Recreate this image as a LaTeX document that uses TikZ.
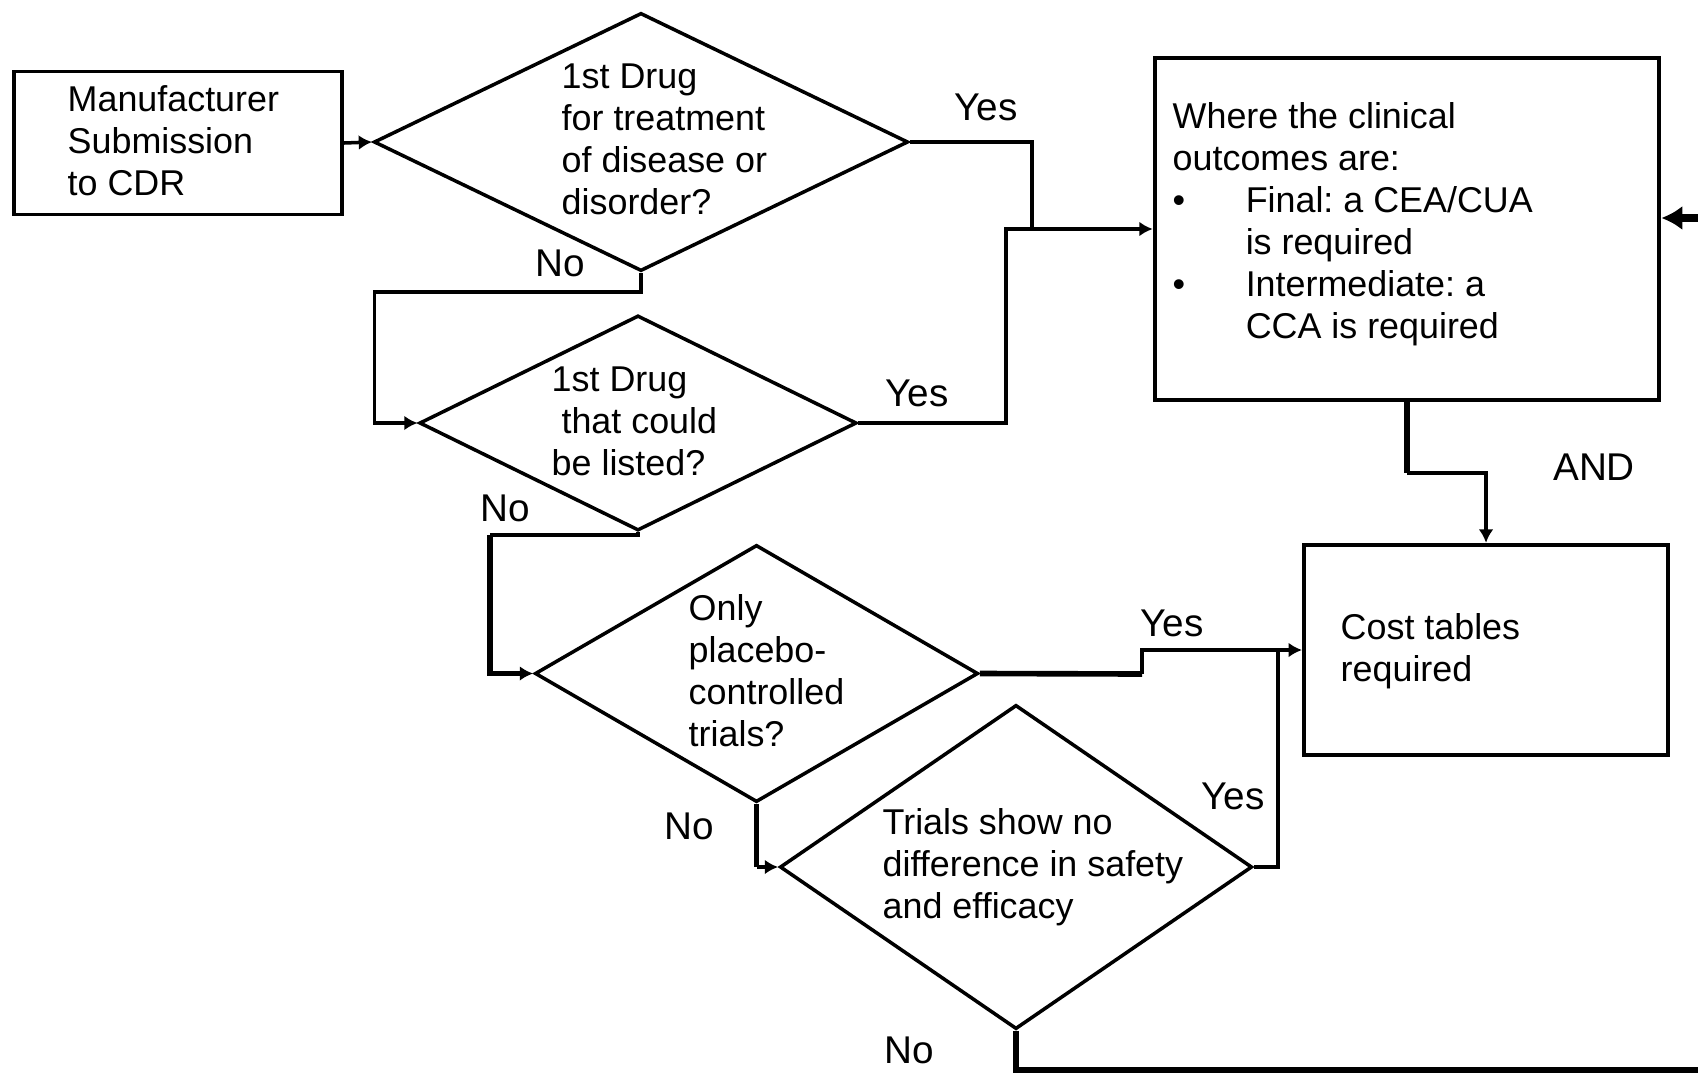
\documentclass[tikz,border=0pt]{standalone}
\usepackage{fontspec}
\setmainfont{Liberation Sans}
\usetikzlibrary{shapes.geometric,arrows.meta}
\frenchspacing
\begin{document}
\begin{tikzpicture}[x=0.01cm,y=-0.01cm,
  box/.style={draw,line width=1.1pt,rectangle,inner sep=0},
  dia/.style={draw,line width=1pt,diamond,inner sep=0},
  txt/.style={anchor=west,align=left,inner sep=0,font=\fontsize{10.2}{11.95}\selectfont},
  lbl/.style={inner sep=0,font=\fontsize{11}{13}\selectfont},
  conn/.style={line width=1pt},
  heavy/.style={line width=1.6pt},
  arr/.style={-{Latex[length=3.8pt,width=4.2pt]}},
]
\useasboundingbox (0,0) rectangle (1698,1073);

% shapes
\node[box,minimum width=3.28cm,minimum height=1.43cm] (m) at (178,143) {};
\node[dia,minimum width=5.34cm,minimum height=2.58cm] (d1) at (641,142) {};
\node[dia,minimum width=4.37cm,minimum height=2.15cm] (d2) at (638,423) {};
\node[dia,minimum width=4.43cm,minimum height=2.57cm] (d3) at (756.5,673.5) {};
\node[dia,minimum width=4.72cm,minimum height=3.24cm] (d4) at (1016,867) {};
\node[box,minimum width=5.045cm,minimum height=3.42cm] (b1) at (1407,229) {};
\node[box,minimum width=3.64cm,minimum height=2.105cm] (cost) at (1486,650) {};

% texts
\node[txt] (mt) at (67,141) {Manufacturer\\Submission\\to CDR};
\node[txt] (d1t) at (561,139) {1st Drug\\for treatment\\of disease or\\disorder?};
\node[txt] (d2t) at (551,421) {1st Drug\\\hspace*{2.8pt}that could\\be listed?};
\node[txt] (d3t) at (688,671) {Only\\placebo-\\controlled\\trials?};
\node[txt] (d4t) at (882,867) {Trials show no\\difference in safety\\and efficacy};
\node[txt] (ct) at (1340,651) {Cost tables\\required};
\node[txt] (bt) at (1172,224) {Where the clinical\\outcomes are:\\\makebox[0.73cm][l]{\textbullet}Final: a CEA/CUA\\\hspace*{0.73cm}is required\\\makebox[0.73cm][l]{\textbullet}Intermediate: a\\\hspace*{0.73cm}CCA is required};

% labels
\node[lbl] (y1) at (986,107) {Yes};
\node[lbl] (n1) at (560,263) {No};
\node[lbl] (y2) at (917,393) {Yes};
\node[lbl] (n2) at (505,508) {No};
\node[lbl] (y3) at (1172,623) {Yes};
\node[lbl] (n3) at (689,826) {No};
\node[lbl] (y4) at (1233,796) {Yes};
\node[lbl] (n4) at (909,1050) {No};
\node[lbl] (and) at (1594,467) {AND};

% coordinates
\coordinate (j1) at (1032,230);
\coordinate (k1) at (1006,423);
\coordinate (c1) at (374.7,292);
\coordinate (c2) at (490,535);
\coordinate (c3) at (1142,674);
\coordinate (c4) at (1278,650);
\coordinate (c5) at (1407,473);
\coordinate (r1) at (1698,218);
\coordinate (r2) at (1698,1070);

% connectors
\draw[conn,arr] (m.east) -- (d1.west);
\draw[conn] (d1.east) -| (j1);
\draw[conn,arr] (d2.east) -- (k1) |- (b1.west);
\draw[conn,arr] (d1.south) |- (c1) |- (d2.west);
\draw[conn] (d2.south) |- (c2);
\draw[heavy,arr] (c2) |- (d3.west);
\draw[heavy] (d3.south) -- (d3.south |- d4.west);
\draw[conn,arr] (d3.south |- d4.west) -- (d4.west);
\draw[heavy] (d3.east) -- (c3);
\draw[conn,arr] (c3) |- (cost.west);
\draw[conn] (d4.east) -| (c4);
\draw[heavy] (b1.south) -- (c5);
\draw[conn,arr] (c5) -| (cost.north);
\draw[line width=2.4pt,-{Latex[length=6pt,width=7pt]}] (r1) -- (r1 -| b1.east);
\draw[heavy] (d4.south) |- (r2);
\end{tikzpicture}
\end{document}
